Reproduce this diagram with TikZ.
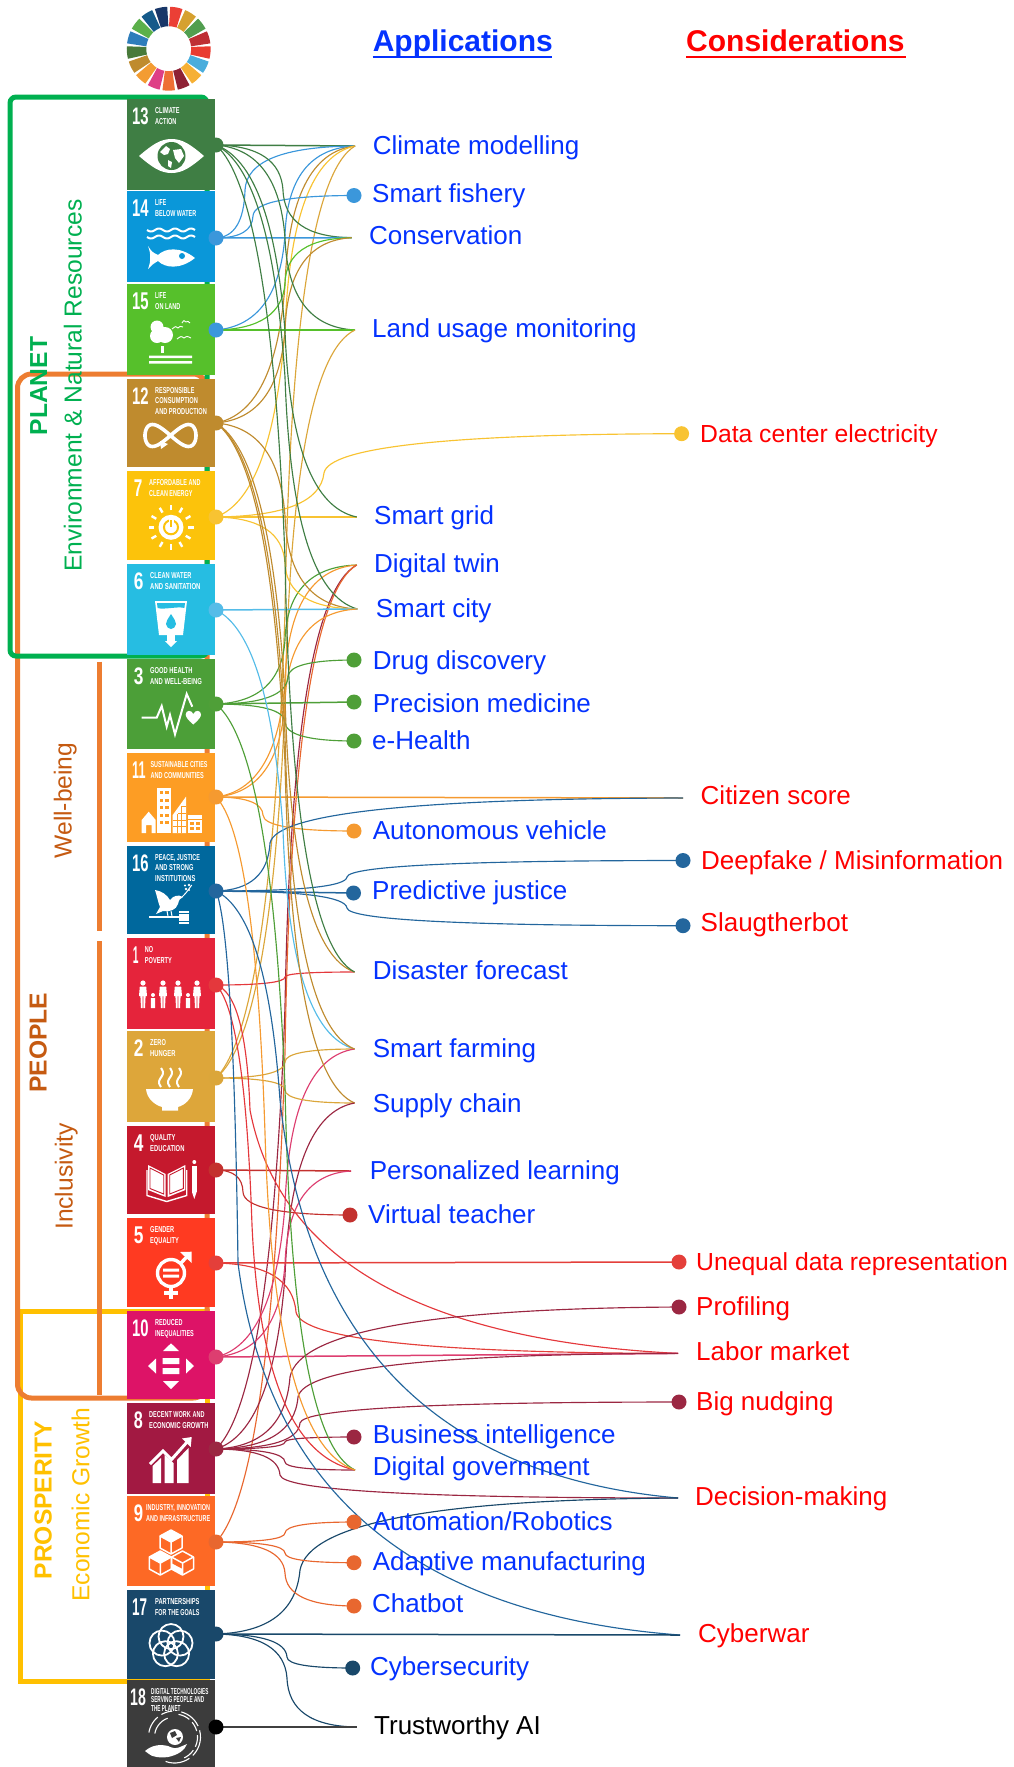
\documentclass[tikz,border=0pt]{standalone}
\usepackage{fontspec}
\usepackage{graphicx}
\setmainfont{Liberation Sans}
\usetikzlibrary{calc}
\pgfdeclarelayer{back}
\pgfsetlayers{back,main}
\definecolor{s1}{HTML}{E5243B}\definecolor{s2}{HTML}{DDA63A}\definecolor{s3}{HTML}{4C9F38}
\definecolor{s4}{HTML}{C5192D}\definecolor{s5}{HTML}{FF3A21}\definecolor{s6}{HTML}{26BDE2}
\definecolor{s7}{HTML}{FCC30B}\definecolor{s8}{HTML}{A21942}\definecolor{s9}{HTML}{FD6925}
\definecolor{s10}{HTML}{DD1367}\definecolor{s11}{HTML}{FD9D24}\definecolor{s12}{HTML}{BF8B2E}
\definecolor{s13}{HTML}{3F7E44}\definecolor{s14}{HTML}{0A97D9}\definecolor{s15}{HTML}{56C02B}
\definecolor{s16}{HTML}{00689D}\definecolor{s17}{HTML}{19486A}\definecolor{s18}{HTML}{3C3C3C}
\definecolor{d1}{HTML}{E4383C}\definecolor{d2}{HTML}{DBA63A}\definecolor{d3}{HTML}{4F9F38}
\definecolor{d4}{HTML}{C3312E}\definecolor{d5}{HTML}{E43F3A}\definecolor{d6}{HTML}{55BCE8}
\definecolor{d7}{HTML}{F8C332}\definecolor{d8}{HTML}{9B2742}\definecolor{d9}{HTML}{E8672F}
\definecolor{d10}{HTML}{DD3E70}\definecolor{d11}{HTML}{F59A30}\definecolor{d12}{HTML}{BF8B2E}
\definecolor{d13}{HTML}{3F7E44}\definecolor{d14}{HTML}{3B97DB}\definecolor{d15}{HTML}{56C02B}
\definecolor{d16}{HTML}{23669D}\definecolor{d17}{HTML}{19486A}
\definecolor{w1}{HTML}{EB3F35}\definecolor{w2}{HTML}{D6A12F}\definecolor{w3}{HTML}{519E4F}
\definecolor{w4}{HTML}{BE2F33}\definecolor{w5}{HTML}{E93C30}\definecolor{w6}{HTML}{4AADDC}
\definecolor{w7}{HTML}{F6B035}\definecolor{w8}{HTML}{8E2235}\definecolor{w9}{HTML}{EE7035}
\definecolor{w10}{HTML}{DE3F86}\definecolor{w11}{HTML}{F39C32}\definecolor{w12}{HTML}{BF8B2E}
\definecolor{w13}{HTML}{487A3A}\definecolor{w14}{HTML}{2E7DBB}\definecolor{w15}{HTML}{5BB04A}
\definecolor{w16}{HTML}{155A8A}\definecolor{w17}{HTML}{183668}
\definecolor{fgreen}{HTML}{00B050}\definecolor{forange}{HTML}{ED7D31}\definecolor{fyellow}{HTML}{FFC000}
\definecolor{tbrown}{HTML}{C55A11}\definecolor{appblue}{HTML}{0432FF}\definecolor{conred}{HTML}{FF0000}
\newcounter{tc}
\tikzset{
  dotst/.style={circle,inner sep=0pt,minimum size=15pt,draw=none},
  lbl/.style={inner sep=0pt,anchor=base west,font=\fontsize{26}{30}\selectfont},
  side/.style={inner sep=0pt,rotate=90,anchor=base,font=\fontsize{24.6}{28}\selectfont},
  linkst/.style={line width=1.15pt},
  straight/.style={line width=1.5pt},
  frame/.style={line width=5pt},
  wl/.style={draw=white,line width=#1},
  wl/.default=2pt
}
% text on tiles, set to an exact width and cap height
\newcommand\ttl[4]{\stepcounter{tc}\node[inner sep=0pt,anchor=base west,text=white] (tt\arabic{tc}) at (#1,#2) {\resizebox{#3pt}{6pt}{\bfseries #4}};}
\newcommand\tnum[4]{\stepcounter{tc}\node[inner sep=0pt,anchor=base west,text=white] (tt\arabic{tc}) at (#1,#2) {\resizebox{#3pt}{16.7pt}{\bfseries #4}};}
% kinked link: source, kink, destination; long hops leave and arrive on a slant
\newcommand\lnk[5]{%
  \coordinate (k) at (#3,#4);
  \path let \p1=(#2.center),\p2=(k),\p3=(#5.center),
      \n1={min(1,abs(\y2-\y1)/200)},\n2={min(1,abs(\y3-\y2)/200)} in
      coordinate (ca) at ({\x2-0.2*\n1*(\x2-\x1)},{\y1+0.12*\n1*(\y2-\y1)})
      coordinate (cb) at ({\x2+0.1*\n2*(\x3-\x2)},{\y3-0.08*\n2*(\y3-\y2)});
  \draw[linkst,#1] (#2.center) .. controls ($(#2.center)!.667!(ca)$) and ($(k)!.667!(ca)$) .. (k)
     .. controls ($(k)!.667!(cb)$) and ($(#5.center)!.667!(cb)$) .. (#5.center);}
\newcommand\str[3]{\draw[straight,#1] (#2.center) -- (#3.center);}
\newcommand\persn[3]{% x, head y, foot y
  \fill[white] (#1,#2) circle[radius=2.6];
  \fill[white] (#1-3.2,#2+3.6) -- (#1+3.2,#2+3.6) -- (#1+4,#2+13) -- (#1+2.6,#2+13) -- (#1+2,#3) -- (#1+.4,#3) -- (#1+.4,#2+13) -- (#1-.4,#2+13) -- (#1-.4,#3) -- (#1-2,#3) -- (#1-2.6,#2+13) -- (#1-4,#2+13) -- cycle;}
\newcommand\cubeic[2]{%
  \draw[white,line width=1.5pt,line join=round] (#1,#2-12) -- (#1+11,#2-6) -- (#1+11,#2+6) -- (#1,#2+12) -- (#1-11,#2+6) -- (#1-11,#2-6) -- cycle;
  \draw[white,line width=1.5pt] (#1-11,#2-6) -- (#1,#2) -- (#1+11,#2-6) (#1,#2) -- (#1,#2+12);}
\newcommand\seg[3]{\draw[white,line width=1.1pt] plot[domain=#2:#3,samples=8] ({174.5+#1*cos(\x)},{1737+#1*sin(\x)});}
\begin{document}
\begin{tikzpicture}[x=1pt,y=-1pt]
\useasboundingbox (0,0) rectangle (1013,1767);
%% ---- dots on the goals
\node[dotst,fill=d13] (n13) at (216,145) {};
\node[dotst,fill=d14] (n14) at (216,238) {};
\node[dotst,fill=d14] (n15) at (216,330) {};
\node[dotst,fill=d12] (n12) at (216,423) {};
\node[dotst,fill=d7] (n7) at (216,517) {};
\node[dotst,fill=d6] (n6) at (216,610) {};
\node[dotst,fill=d3] (n3) at (216,704) {};
\node[dotst,fill=d11] (n11) at (216,797) {};
\node[dotst,fill=d16] (n16) at (216,891) {};
\node[dotst,fill=d1] (n1) at (216,985) {};
\node[dotst,fill=d2] (n2) at (216,1078) {};
\node[dotst,fill=d4] (n4) at (216,1170) {};
\node[dotst,fill=d5] (n5) at (216,1263) {};
\node[dotst,fill=d10] (n10) at (216,1357) {};
\node[dotst,fill=d8] (n8) at (216,1449) {};
\node[dotst,fill=d9] (n9) at (216,1542) {};
\node[dotst,fill=d17] (n17) at (216,1634) {};
\node[dotst,fill=black] (n18) at (216,1727) {};
%% ---- destination dots and free ends
\coordinate (clim) at (355,146);
\node[dotst,fill=d14] (fish) at (354,195.5) {};
\coordinate (cons) at (351.7,237.7);
\coordinate (land) at (355,330);
\node[dotst,fill=d7] (data) at (681.6,433.7) {};
\coordinate (sgrid) at (356.7,517);
\coordinate (twin) at (356.7,565);
\coordinate (scity) at (357.3,609);
\node[dotst,fill=d3] (drug) at (354,660) {};
\node[dotst,fill=d3] (prec) at (354,702) {};
\node[dotst,fill=d3] (ehealth) at (354,741) {};
\coordinate (citi) at (683,798);
\node[dotst,fill=d11] (autov) at (354,831) {};
\node[dotst,fill=d16] (deep) at (683,860.5) {};
\node[dotst,fill=d16] (pred) at (353.5,893) {};
\node[dotst,fill=d16] (slau) at (683,925.7) {};
\coordinate (disa) at (354.5,972);
\coordinate (farm) at (354.5,1049);
\coordinate (supp) at (354.5,1103);
\coordinate (pers) at (351,1171);
\node[dotst,fill=d4] (virt) at (350,1215) {};
\node[dotst,fill=d5] (uneq) at (679,1262) {};
\node[dotst,fill=d8] (prof) at (679,1307) {};
\coordinate (labr) at (678,1353.4);
\node[dotst,fill=d8] (nudg) at (679,1402) {};
\node[dotst,fill=d8] (busi) at (354,1437) {};
\coordinate (dgov) at (355,1470);
\coordinate (deci) at (678,1498);
\node[dotst,fill=d9] (robo) at (354,1522) {};
\node[dotst,fill=d9] (adap) at (354,1562.7) {};
\node[dotst,fill=d9] (chat) at (354,1606) {};
\coordinate (cywr) at (680,1635);
\node[dotst,fill=d17] (cysc) at (352.7,1668) {};
\coordinate (trus) at (356.7,1727);
%% ---- texts
\node[lbl,text=appblue,font=\bfseries\fontsize{30}{34}\selectfont] (happ) at (372.6,51.7) {Applications};
\node[lbl,text=conred,font=\bfseries\fontsize{30}{34}\selectfont] (hcon) at (686,51.7) {Considerations};
\node[lbl,text=appblue] (t1) at (372.6,154) {Climate modelling};
\node[lbl,text=appblue] (t2) at (372,202) {Smart fishery};
\node[lbl,text=appblue] (t3) at (369,244) {Conservation};
\node[lbl,text=appblue] (t4) at (372,337) {Land usage monitoring};
\node[lbl,text=conred,font=\fontsize{24.7}{28}\selectfont] (t5) at (700,442.5) {Data center electricity};
\node[lbl,text=appblue] (t6) at (374,524) {Smart grid};
\node[lbl,text=appblue] (t7) at (374,572) {Digital twin};
\node[lbl,text=appblue] (t8) at (375.6,617) {Smart city};
\node[lbl,text=appblue] (t9) at (372.6,669) {Drug discovery};
\node[lbl,text=appblue] (t10) at (372.6,712) {Precision medicine};
\node[lbl,text=appblue] (t11) at (372,749) {e-Health};
\node[lbl,text=conred] (t12) at (700.5,804) {Citizen score};
\node[lbl,text=appblue] (t13) at (372.6,839) {Autonomous vehicle};
\node[lbl,text=conred] (t14) at (701,869) {Deepfake / Misinformation};
\node[lbl,text=appblue] (t15) at (372,899) {Predictive justice};
\node[lbl,text=conred] (t16) at (700.5,931) {Slaugtherbot};
\node[lbl,text=appblue] (t17) at (372.6,979) {Disaster forecast};
\node[lbl,text=appblue] (t18) at (372.6,1057) {Smart farming};
\node[lbl,text=appblue] (t19) at (372.6,1112) {Supply chain};
\node[lbl,text=appblue] (t20) at (369.6,1179) {Personalized learning};
\node[lbl,text=appblue] (t21) at (368,1223.5) {Virtual teacher};
\node[lbl,text=conred,font=\fontsize{24.7}{28}\selectfont] (t22) at (696,1270) {Unequal data representation};
\node[lbl,text=conred] (t23) at (696,1315) {Profiling};
\node[lbl,text=conred] (t24) at (696,1360) {Labor market};
\node[lbl,text=conred] (t25) at (696,1410) {Big nudging};
\node[lbl,text=appblue] (t26) at (372.6,1443) {Business intelligence};
\node[lbl,text=appblue] (t27) at (372.6,1475.5) {Digital government};
\node[lbl,text=conred] (t28) at (695,1505) {Decision-making};
\node[lbl,text=appblue] (t29) at (372.6,1530) {Automation/Robotics};
\node[lbl,text=appblue] (t30) at (372.6,1570) {Adaptive manufacturing};
\node[lbl,text=appblue] (t31) at (372,1612) {Chatbot};
\node[lbl,text=conred] (t32) at (698,1642) {Cyberwar};
\node[lbl,text=appblue] (t33) at (370,1675) {Cybersecurity};
\node[lbl,text=black] (t34) at (374,1734) {Trustworthy AI};
\draw[appblue,line width=2.4pt] (372.6,56.8) -- (552,56.8);
\draw[conred,line width=2.4pt] (686,56.8) -- (906,56.8);
%% ---- left side texts
\node[side,text=fgreen,font=\bfseries\fontsize{24.6}{28}\selectfont] (pl) at (47,386) {PLANET};
\node[side,text=fgreen] (env) at (81.5,385.5) {Environment \& Natural Resources};
\node[side,text=tbrown] (well) at (71.7,800.5) {Well-being};
\node[side,text=tbrown] (incl) at (72.7,1176.5) {Inclusivity};
\node[side,text=tbrown,font=\bfseries\fontsize{24.6}{28}\selectfont] (peo) at (46.7,1042.5) {PEOPLE};
\node[side,text=fyellow,font=\bfseries\fontsize{24.6}{28}\selectfont] (pros) at (51.7,1500) {PROSPERITY};
\node[side,text=fyellow] (eco) at (89.3,1504.5) {Economic Growth};
%% ================ everything behind
\begin{pgfonlayer}{back}
%% wheel
\foreach \i/\c in {1/w1,2/w2,3/w3,4/w4,5/w5,6/w6,7/w7,8/w8,9/w9,10/w10,11/w11,12/w12,13/w13,14/w14,15/w15,16/w16,17/w17}{
  \pgfmathsetmacro\aa{-90+(\i-1)*21.176+1.6}
  \pgfmathsetmacro\bb{-90+\i*21.176-1.6}
  \draw[line width=19.5pt,color=\c] plot[domain=\aa:\bb,samples=6] ({168.7+32.2*cos(\x)},{48.7+32.2*sin(\x)});
}
%% frames
\draw[frame,fyellow] (20,1311) rectangle (207,1681);
\draw[frame,forange,rounded corners=14pt] (17.5,374) rectangle (207,1398);
\draw[forange,line width=5.5pt] (99.5,661.7) -- (99.5,930.7) (99.5,941) -- (99.5,1395);
\draw[frame,fgreen,rounded corners=6pt] (10,97) rectangle (207,656);
%% tiles
\fill[s13] (127,99) rectangle (215,190);
\fill[s14] (127,191) rectangle (215,282);
\fill[s15] (127,284) rectangle (215,375);
\fill[s12] (127,379) rectangle (215,467);
\fill[s7] (127,471) rectangle (215,560);
\fill[s6] (127,564) rectangle (215,655);
\fill[s3] (127,659) rectangle (215,749);
\fill[s11] (127,753) rectangle (215,842);
\fill[s16] (127,846) rectangle (215,934);
\fill[s1] (127,938) rectangle (215,1029);
\fill[s2] (127,1031) rectangle (215,1122);
\fill[s4] (127,1126) rectangle (215,1214);
\fill[s5] (127,1218) rectangle (215,1307);
\fill[s10] (127,1311) rectangle (215,1399);
\fill[s8] (127,1403) rectangle (215,1494);
\fill[s9] (127,1496) rectangle (215,1586);
\fill[s17] (127,1590) rectangle (215,1679);
\fill[s18] (127,1680) rectangle (215,1767);
%% tile numbers and titles
\tnum{132}{124}{16.5}{13} \ttl{155}{113.3}{24.3}{CLIMATE} \ttl{155}{124.3}{21.3}{ACTION}
\tnum{132}{216}{16.5}{14} \ttl{155}{205.3}{11}{LIFE} \ttl{155}{216.3}{41}{BELOW WATER}
\tnum{132}{309}{16.5}{15} \ttl{155}{298.3}{11}{LIFE} \ttl{155}{309.3}{25.3}{ON LAND}
\tnum{132}{404}{16.5}{12} \ttl{155}{393}{39.3}{RESPONSIBLE} \ttl{155}{403.7}{42.7}{CONSUMPTION} \ttl{155}{414}{51.7}{AND PRODUCTION}
\tnum{133.7}{496}{8.5}{7} \ttl{149}{485}{51.3}{AFFORDABLE AND} \ttl{149}{496}{43.3}{CLEAN ENERGY}
\tnum{133.7}{589}{9.6}{6} \ttl{150}{578}{41.3}{CLEAN WATER} \ttl{150}{589}{50.3}{AND SANITATION}
\tnum{133.7}{684}{9.6}{3} \ttl{150}{673}{42.3}{GOOD HEALTH} \ttl{150}{684}{51.7}{AND WELL-BEING}
\tnum{132}{778}{13.3}{11} \ttl{150.3}{767}{57}{SUSTAINABLE CITIES} \ttl{150.3}{778}{53.3}{AND COMMUNITIES}
\tnum{132}{871}{16.5}{16} \ttl{155}{860}{44.7}{PEACE, JUSTICE} \ttl{155}{870.7}{38.3}{AND STRONG} \ttl{155}{881}{40.3}{INSTITUTIONS}
\tnum{132.7}{963}{5.7}{1} \ttl{144.7}{952}{8.3}{NO} \ttl{144.7}{963}{27}{POVERTY}
\tnum{133.7}{1056}{9.6}{2} \ttl{150}{1045}{15.7}{ZERO} \ttl{150}{1056}{25.3}{HUNGER}
\tnum{133.7}{1151}{9.6}{4} \ttl{150}{1140}{25.3}{QUALITY} \ttl{150}{1151}{34.3}{EDUCATION}
\tnum{133.7}{1243}{9.6}{5} \ttl{150}{1232}{24}{GENDER} \ttl{150}{1243}{28.7}{EQUALITY}
\tnum{132}{1336}{16.5}{10} \ttl{155}{1325}{27.3}{REDUCED} \ttl{155}{1336}{38.7}{INEQUALITIES}
\tnum{133.7}{1428}{9}{8} \ttl{149}{1417}{55.3}{DECENT WORK AND} \ttl{149}{1428}{59.3}{ECONOMIC GROWTH}
\tnum{133.7}{1521}{9.3}{9} \ttl{146}{1510}{64}{INDUSTRY, INNOVATION} \ttl{146}{1521}{64}{AND INFRASTRUCTURE}
\tnum{132}{1615}{15}{17} \ttl{155}{1604}{44.3}{PARTNERSHIPS} \ttl{155}{1615}{44.3}{FOR THE GOALS}
\tnum{130}{1705}{15.7}{18} \ttl{151}{1694}{57.3}{DIGITAL TECHNOLOGIES} \ttl{151}{1702.7}{53}{SERVING PEOPLE AND} \ttl{151}{1711.4}{29.3}{THE PLANET}
%% icon 13 eye
\fill[white] (139,156) .. controls (152,145) and (160,139) .. (171.5,139) .. controls (183,139) and (191,145) .. (204,156) .. controls (191,167) and (183,173) .. (171.5,173) .. controls (160,173) and (152,167) .. (139,156) -- cycle;
\fill[s13] (171.5,156) circle[radius=14];
\fill[white] (160,152) -- (166,146) -- (170,149) -- (168,154) -- (164,155) -- cycle (173,150) -- (181,149) -- (184,156) -- (179,163) -- (175,158) -- cycle (168,160) -- (172,162) -- (171,168) -- (168,166) -- cycle;
%% icon 14 water and fish
\foreach \yy in {230,237}{\draw[wl=2pt] plot[domain=147:195,samples=50] (\x,{\yy+1.5*sin((\x-147)*22.5)});}
\fill[white] (148,246) .. controls (152,252) .. (158,255) .. controls (165,248) and (180,246) .. (195,258) .. controls (180,270) and (165,268) .. (158,261) .. controls (153,264) .. (148,269) .. controls (151,262) and (151,253) .. (148,246) -- cycle;
\fill[s14] (182,256) circle[radius=3];
%% icon 15 tree and land
\fill[white] (157,327) circle[radius=6.5] (157,336) circle[radius=7] (165,335) circle[radius=8];
\fill[white] (160.5,346) rectangle (163.5,353);
\fill[white] (149,355.5) rectangle (192,358) (149,361) rectangle (192,363.5);
\draw[white,line width=.9pt] (172,329) .. controls (176,326) .. (178,328) .. controls (180,326) .. (183,327);
\draw[white,line width=.9pt] (182,323) .. controls (184,320) .. (186,322) .. controls (188,321) .. (190,323);
\draw[white,line width=.9pt] (177,339) .. controls (181,336) .. (184,338) .. controls (187,336) .. (191,338);
%% icon 12 infinity
\draw[wl=3.6pt] plot[domain=0:360,samples=70] ({170.5+25.5*cos(\x)},{435.5+22*sin(\x)*cos(\x)});
\fill[white] (160,441) -- (168,444) -- (161,449) -- cycle;
%% icon 7 sun
\foreach \a in {0,30,...,330}{\draw[wl=2.4pt] ({171+17*cos(\a)},{527.3+17*sin(\a)}) -- ({171+22.5*cos(\a)},{527.3+22.5*sin(\a)});}
\fill[white] (171,527.3) circle[radius=12.5];
\draw[s7,line width=2pt] (171,527.3) circle[radius=7];
\draw[white,line width=5pt] (171,517) -- (171,526);
\draw[s7,line width=2pt] (171,520) -- (171,527);
%% icon 6 glass
\fill[white] (155,601) -- (187,601) -- (183,635) -- (159,635) -- cycle;
\fill[s6] (157,603) -- (185,603) -- (184.4,608) .. controls (178,606) and (164,610) .. (157.6,608) -- cycle;
\fill[s6] (171,614) .. controls (174,619) and (176,621) .. (176,624) .. controls (176,627) and (173,629) .. (171,629) .. controls (169,629) and (166,627) .. (166,624) .. controls (166,621) and (168,619) .. (171,614) -- cycle;
\fill[white] (167,635) rectangle (175,641);
\fill[white] (165,641) -- (177,641) -- (171,647) -- cycle;
%% icon 3 heartbeat
\draw[wl=2pt,line join=miter] (141.7,717.7) -- (156.7,717.7) -- (161.7,706) -- (166.7,726.7) -- (170,715) -- (175,734.3) -- (186.7,694) -- (192.3,706.7);
\fill[white] (193.3,724.5) .. controls (188,720) and (185.7,717) .. (185.7,714.5) .. controls (185.7,710) and (191.5,709.5) .. (193.3,714) .. controls (195.1,709.5) and (201,710) .. (201,714.5) .. controls (201,717) and (198.6,720) .. (193.3,724.5) -- cycle;
%% icon 11 city
\fill[white] (157.3,788) rectangle (171,833);
\foreach \xx in {159.6,165.4}{\foreach \yy in {791,798.5,806,813.5,821}{\fill[s11] (\xx,\yy) rectangle (\xx+3.4,\yy+3.4);}}
\fill[white] (141.7,820) -- (148.7,811.7) -- (155.7,820) -- (155.7,833) -- (151.5,833) -- (151.5,825) -- (146,825) -- (146,833) -- (141.7,833) -- cycle;
\fill[white] (186,796.7) -- (186,833) -- (172.7,833) -- (172.7,815) -- cycle;
\draw[s11,line width=.9pt] (172.7,820) -- (186,820) (172.7,826) -- (186,826) (177,814) -- (177,833) (181.5,806) -- (181.5,833) (178,813) -- (186,813) (181,806.5) -- (186,806.5);
\fill[white] (188,815) rectangle (201.7,833);
\draw[s11,line width=.9pt] (188,819) -- (201.7,819);
\foreach \xx in {190.3,196.3}{\foreach \yy in {821.5,827}{\fill[s11] (\xx,\yy) rectangle (\xx+3.2,\yy+3);}}
%% icon 16 dove and gavel
\fill[white] (155,890) .. controls (162,891) and (167,895) .. (170,900) .. controls (173,896) and (178,894) .. (183,897) .. controls (180,898) and (179,900) .. (178,904) .. controls (176,910) and (170,912) .. (163,911) -- (156,914) -- (160,907) .. controls (158,902) and (157,896) .. (155,890) -- cycle;
\draw[white,line width=1pt] (182,897) .. controls (186,893) .. (191.7,885);
\fill[white] (186,889) circle[radius=1.3] (189,890) circle[radius=1.2] (185,885.5) circle[radius=1.2] (189,885) circle[radius=1.3];
\draw[white,line width=1pt] (167,911) -- (168,916) (171,911) -- (172,916);
\draw[wl=1.8pt] (149,917) -- (180,917);
\fill[white] (179,910.5) rectangle (189,924);
\draw[s16,line width=.8pt] (179,913) -- (189,913) (179,921) -- (189,921);
%% icon 1 family
\persn{143}{983}{1008}\persn{163}{983}{1008}\persn{178}{983}{1008}\persn{197}{983}{1008}
\fill[white] (153,995) circle[radius=2] (188,995) circle[radius=2];
\fill[white] (150.8,998) rectangle (155.2,1008) (185.8,998) rectangle (190.2,1008);
%% icon 2 bowl
\fill[white] (146,1089) -- (193,1089) .. controls (192,1099) and (185,1105) .. (178,1107) -- (178,1110.7) -- (162,1110.7) -- (162,1107) .. controls (155,1105) and (147,1099) .. (146,1089) -- cycle;
\foreach \xx in {161,170,179}{\draw[wl=2pt] plot[domain=1068:1087,samples=20] ({\xx+2*sin((\x-1068)*19)},\x);}
%% icon 4 book and pencil
\fill[white] (148,1165) -- (165.7,1174) -- (165.7,1197) -- (148,1190) -- cycle;
\fill[white] (167.7,1174) -- (185.4,1165) -- (185.4,1190) -- (167.7,1197) -- cycle;
\draw[s4,line width=.9pt] (150,1168) -- (163.7,1175) -- (163.7,1194) -- (150,1188.5) -- cycle (169.7,1175) -- (183.4,1168) -- (183.4,1188.5) -- (169.7,1194) -- cycle;
\draw[wl=1.4pt] (147,1170) -- (147,1195.5) -- (166.7,1201.5) -- (186.7,1195.5) -- (186.7,1170);
\fill[white] (192,1166) rectangle (196.6,1192);
\fill[white] (192,1192) -- (196.6,1192) -- (194.3,1199) -- cycle;
\fill[white] (194.3,1162) circle[radius=2];
%% icon 5 gender
\draw[wl=3.4pt] (171,1273) circle[radius=13.5];
\fill[white] (163,1268.7) rectangle (179,1271.7) (163,1274.7) rectangle (179,1277.7);
\draw[wl=3.4pt] (181,1263) -- (189.5,1254);
\fill[white] (180,1252) -- (191.7,1251.7) -- (191.7,1263) -- cycle;
\draw[wl=3.6pt] (171,1287) -- (171,1299) (164,1293) -- (178,1293);
%% icon 10 arrows
\fill[white] (171,1343.3) -- (179,1351) -- (163,1351) -- cycle (171,1389) -- (179,1381) -- (163,1381) -- cycle;
\fill[white] (148,1366) -- (156,1358.5) -- (156,1373.5) -- cycle (194,1366) -- (186,1358.5) -- (186,1373.5) -- cycle;
\fill[white] (162.7,1358) rectangle (179.3,1364) (162.7,1368) rectangle (179.3,1374);
%% icon 8 chart
\fill[white] (152.5,1466) -- (161,1458) -- (161,1483) -- (152.5,1483) -- cycle (164.7,1455) -- (173.5,1463) -- (173.5,1483) -- (164.7,1483) -- cycle (177,1460) -- (188.5,1448) -- (188.5,1483) -- (177,1483) -- cycle;
\draw[wl=3pt] (150,1464) -- (163,1451) -- (171.5,1459.5) -- (188,1441);
\fill[white] (182,1438.5) -- (191.7,1437) -- (190.7,1447) -- cycle;
%% icon 9 cubes
\fill[white] (171,1530) -- (182,1536) -- (171,1542) -- (160,1536) -- cycle;
\cubeic{171}{1542}\cubeic{160.3}{1563}\cubeic{182.5}{1563}
\fill[white] (160.3,1551) -- (171.3,1557) -- (160.3,1563) -- (149.3,1557) -- cycle;
\fill[white] (171,1563) -- (182.5,1569) -- (182.5,1575) -- (171.5,1569) -- cycle;
%% icon 17 rings
\foreach \a in {-90,-18,54,126,198}{\draw[wl=1.8pt] ({171+9.5*cos(\a)},{1646+9.5*sin(\a)}) circle[radius=12.5];}
%% icon 18 hand and globe
\fill[white] (175,1737) circle[radius=8];
\fill[s18] (170,1733) -- (175,1731) -- (177,1735) -- (172,1738) -- cycle (176,1738) -- (181,1737) -- (179,1742) -- cycle;
\fill[white] (145,1751) .. controls (152,1745) and (160,1744) .. (168,1746) .. controls (172,1748) and (176,1749) .. (180,1747) -- (187,1744) .. controls (185,1750) and (178,1755) .. (168,1757) .. controls (160,1758) and (152,1757) .. (149,1754) -- cycle;
\seg{23}{-80}{-50}\seg{23}{-40}{-15}\seg{23}{-5}{25}\seg{23}{35}{65}\seg{26}{-170}{-130}\seg{26}{-120}{-95}\seg{26}{-75}{-25}\seg{26}{-15}{45}\seg{26}{55}{110}\seg{20}{-170}{-110}
%% ---- connectors
\str{d13}{n13}{clim}
\lnk{d14}{n14}{245}{190}{clim}
\lnk{d14}{n15}{285}{235}{clim}
\lnk{d12}{n12}{285}{285}{clim}
\lnk{d7}{n7}{285}{330}{clim}
\lnk{d2}{n2}{285}{612}{clim}
\lnk{d14}{n14}{253}{216}{fish}
\lnk{d13}{n13}{283}{190}{cons}
\str{d14}{n14}{cons}
\lnk{d15}{n15}{285}{283}{cons}
\lnk{d12}{n12}{285}{330}{cons}
\lnk{d13}{n13}{285}{238}{land}
\str{d15}{n15}{land}
\lnk{d2}{n2}{285}{704}{land}
\lnk{d7}{n7}{324}{473}{data}
\str{d7}{n7}{sgrid}
\lnk{d13}{n13}{285}{331}{sgrid}
\lnk{d3}{n3}{285}{640}{twin}
\lnk{d11}{n11}{285}{681}{twin}
\lnk{d8}{n8}{285}{1007}{twin}
\lnk{d9}{n9}{285}{1053}{twin}
\lnk{d12}{n12}{285}{516}{scity}
\lnk{d13}{n13}{285}{377}{scity}
\lnk{d7}{n7}{285}{563}{scity}
\str{d6}{n6}{scity}
\lnk{d11}{n11}{285}{703}{scity}
\lnk{d3}{n3}{288}{677}{drug}
\str{d3}{n3}{prec}
\lnk{d3}{n3}{285}{722}{ehealth}
\lnk{d11}{n11}{263}{815}{autov}
\str{d11}{n11}{citi}
\lnk{d16}{n16}{270}{843}{citi}
\lnk{d16}{n16}{347}{877}{deep}
\str{d16}{n16}{pred}
\lnk{d16}{n16}{347}{908}{slau}
\lnk{d1}{n1}{285}{977}{disa}
\lnk{d12}{n12}{285}{697}{disa}
\lnk{d13}{n13}{285}{558}{disa}
\lnk{d6}{n6}{283}{830}{farm}
\lnk{d2}{n2}{285}{1062}{farm}
\lnk{d10}{n10}{285}{1205}{farm}
\lnk{d12}{n12}{285}{735}{farm}
\lnk{d2}{n2}{285}{1090}{supp}
\lnk{d12}{n12}{285}{763}{supp}
\lnk{d8}{n8}{285}{1276}{supp}
\str{d4}{n4}{pers}
\lnk{d10}{n10}{285}{1264}{pers}
\lnk{d4}{n4}{243}{1192}{virt}
\str{d5}{n5}{uneq}
\lnk{d1}{n1}{250}{1110}{labr}
\lnk{d5}{n5}{296}{1312}{labr}
\str{d10}{n10}{labr}
\lnk{d8}{n8}{298}{1397}{labr}
\lnk{d8}{n8}{290}{1377}{prof}
\lnk{d8}{n8}{300}{1423}{nudg}
\lnk{d8}{n8}{285}{1442}{busi}
\lnk{d8}{n8}{285}{1462}{dgov}
\lnk{d1}{n1}{252}{1225}{dgov}
\lnk{d3}{n3}{285}{1087}{dgov}
\lnk{d11}{n11}{265}{1133}{dgov}
\lnk{d8}{n8}{280}{1475}{deci}
\lnk{d16}{n16}{280}{1100}{deci}
\lnk{d17}{n17}{300}{1570}{deci}
\lnk{d16}{n16}{238}{1263}{cywr}
\str{d17}{n17}{cywr}
\lnk{d17}{n17}{287}{1657}{cysc}
\lnk{d17}{n17}{287}{1678}{trus}
\lnk{d9}{n9}{285}{1533}{robo}
\lnk{d9}{n9}{285}{1553}{adap}
\lnk{d9}{n9}{285}{1573}{chat}
\str{black!75}{n18}{trus}
\end{pgfonlayer}
\end{tikzpicture}
\end{document}
